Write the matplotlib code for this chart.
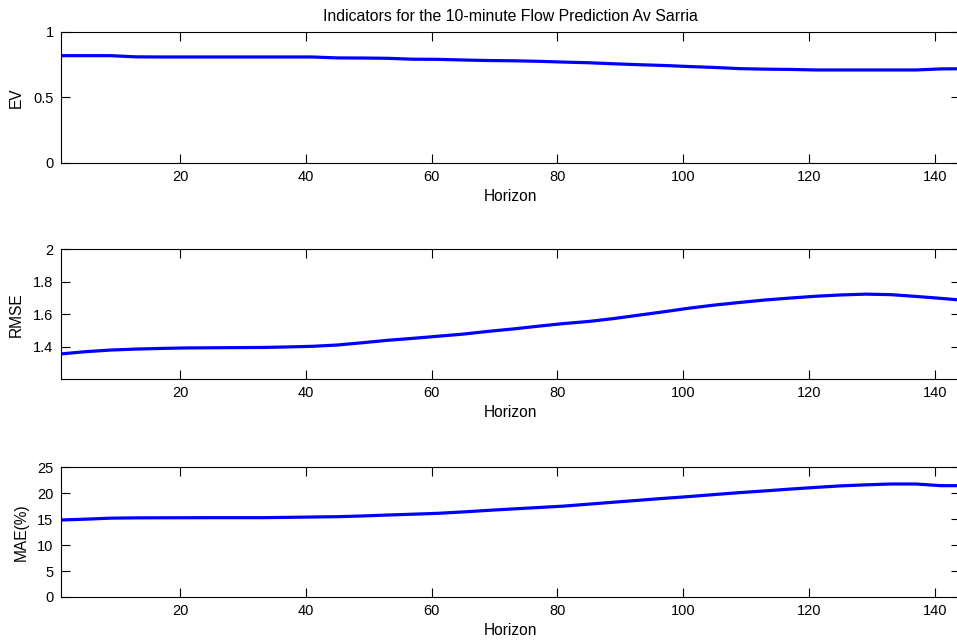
import numpy as np
import matplotlib
matplotlib.use('Agg')
import matplotlib.pyplot as plt

plt.rcParams['font.family'] = ['Liberation Sans', 'DejaVu Sans']
plt.rcParams['font.size'] = 10

horizon = [1, 5, 9, 13, 17, 21, 25, 29, 33, 37, 41, 45, 49, 53, 57, 61, 65, 69, 73,
           77, 81, 85, 89, 93, 97, 101, 105, 109, 113, 117, 121, 125, 129, 133, 137, 141, 144]

ev = [0.817, 0.817, 0.817, 0.808, 0.807, 0.807, 0.807, 0.807, 0.807, 0.807, 0.807,
      0.800, 0.799, 0.797, 0.790, 0.789, 0.784, 0.780, 0.778, 0.774, 0.768, 0.763,
      0.755, 0.748, 0.742, 0.734, 0.727, 0.718, 0.714, 0.712, 0.708, 0.708, 0.708,
      0.708, 0.708, 0.716, 0.717]

rmse = [1.356, 1.370, 1.380, 1.386, 1.390, 1.393, 1.394, 1.395, 1.396, 1.399, 1.403,
        1.411, 1.425, 1.440, 1.452, 1.465, 1.478, 1.495, 1.510, 1.527, 1.543, 1.556,
        1.574, 1.595, 1.616, 1.638, 1.657, 1.673, 1.688, 1.700, 1.711, 1.719, 1.724,
        1.721, 1.710, 1.698, 1.688]

mae = [14.84, 15.00, 15.20, 15.25, 15.27, 15.28, 15.29, 15.29, 15.29, 15.35, 15.42,
       15.48, 15.62, 15.80, 15.96, 16.13, 16.40, 16.70, 16.98, 17.25, 17.52, 17.90,
       18.28, 18.65, 19.02, 19.37, 19.75, 20.12, 20.45, 20.80, 21.12, 21.42, 21.62,
       21.78, 21.78, 21.46, 21.46]

xticks = [20, 40, 60, 80, 100, 120, 140]

fig = plt.figure(figsize=(9.57, 6.44), dpi=100)

L = 60.5 / 957
W = (960 - 60.5) / 957
pos = [(162.7, 131.0), (379.3, 130.0), (597.0, 129.7)]  # bottom px, height px

panels = [
    (ev, 'EV', (0, 1), [0, 0.5, 1], ['0', '0.5', '1'], -0.041),
    (rmse, 'RMSE', (1.2, 2), [1.4, 1.6, 1.8, 2], ['1.4', '1.6', '1.8', '2'], -0.041),
    (mae, 'MAE(%)', (0, 25), [0, 5, 10, 15, 20, 25], ['0', '5', '10', '15', '20', '25'], -0.035),
]

axes = []
for (bpx, hpx), (vals, lab, ylim, yt, ytl, lx) in zip(pos, panels):
    ax = fig.add_axes([L, 1 - bpx / 644, W, hpx / 644])
    ax.plot(horizon, vals, color='#0000ff', lw=2.3)
    ax.set_xlim(1, 144)
    ax.set_ylim(*ylim)
    ax.set_xticks(xticks)
    ax.set_yticks(yt)
    ax.set_yticklabels(ytl)
    ax.tick_params(direction='in', length=6.5, width=0.8, top=True, right=True,
                   pad=5, labelsize=10.5)
    for s in ax.spines.values():
        s.set_linewidth(0.8)
    ax.set_ylabel(lab, fontsize=11.2)
    ax.yaxis.set_label_coords(lx, 0.5)
    ax.set_xlabel('Horizon', fontsize=11.2)
    ax.xaxis.set_label_coords(0.5, -0.2)
    ax.xaxis.label.set_va('top')
    axes.append(ax)

axes[0].set_title('Indicators for the 10-minute Flow Prediction Av Sarria',
                  pad=8, fontsize=11.4)

plt.savefig('out.png', dpi=100)
